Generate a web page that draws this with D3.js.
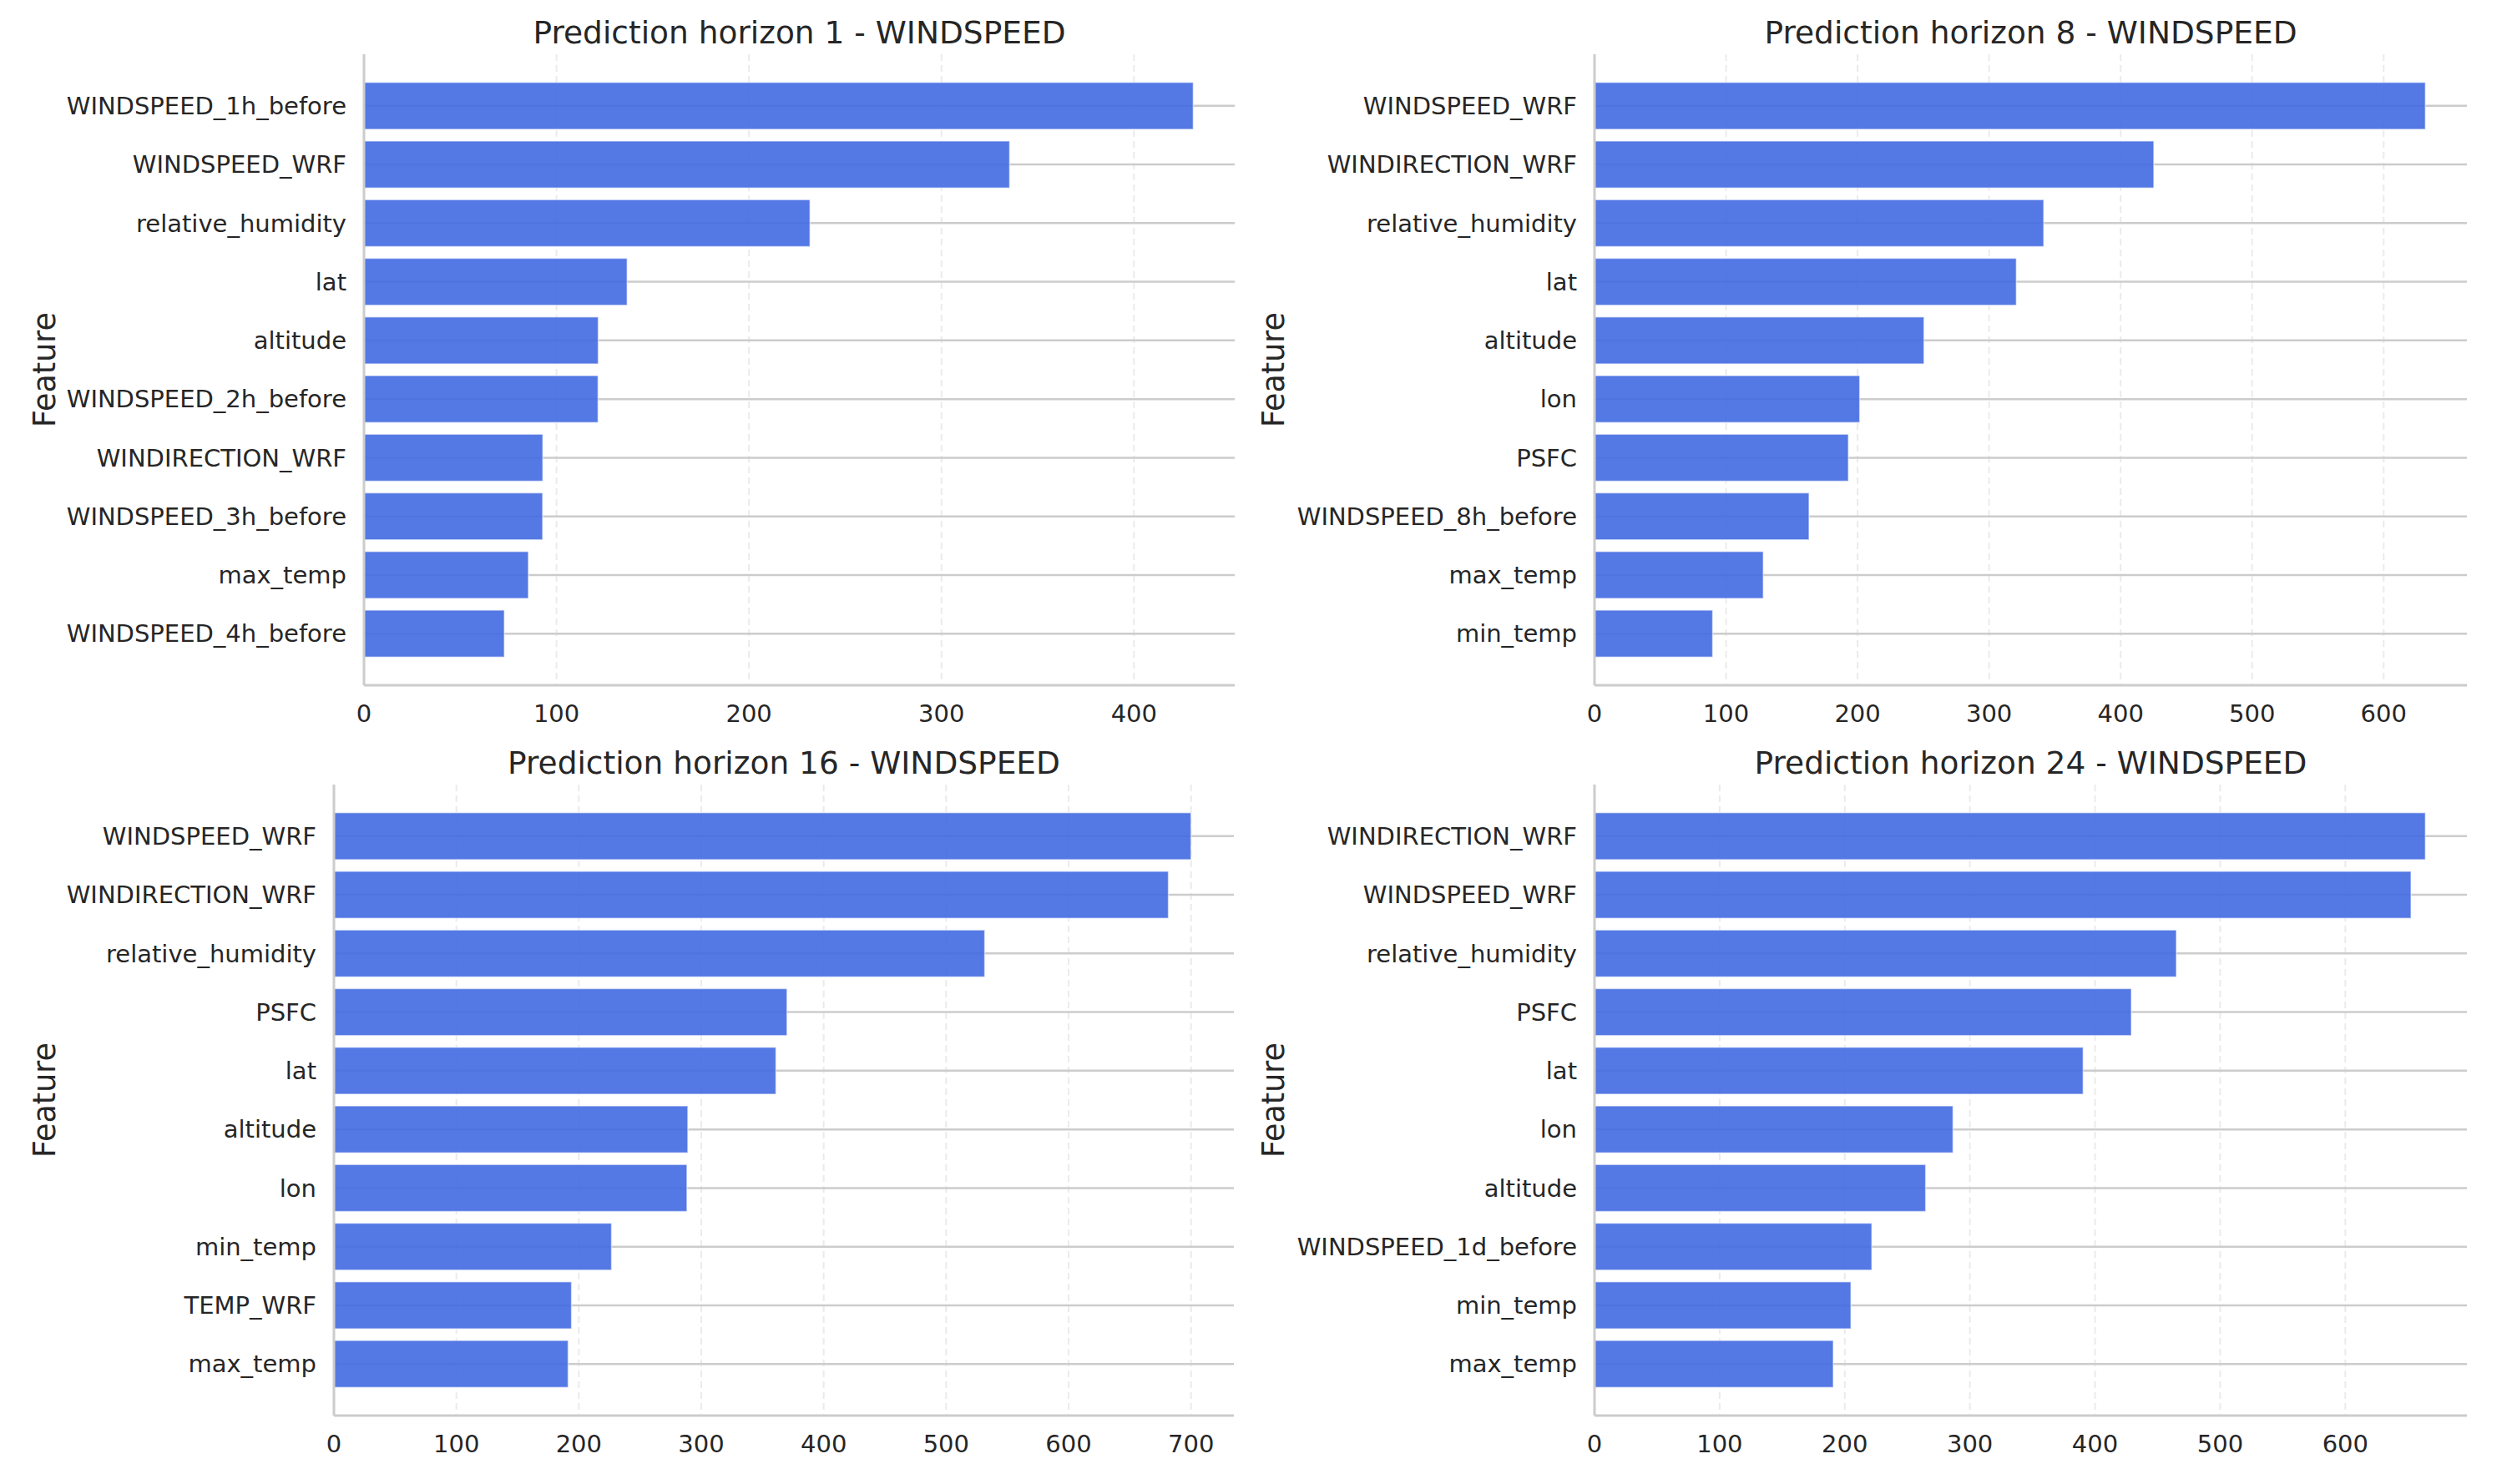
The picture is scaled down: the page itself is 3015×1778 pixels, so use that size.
<!DOCTYPE html>
<html>
<head>
<meta charset="utf-8">
<script src="https://cdn.jsdelivr.net/npm/d3@7"></script>
<style>
  body { margin: 0; background: #fff; }
  text { font-family: "DejaVu Sans", sans-serif; fill: #262626; }
</style>
</head>
<body>
<svg id="chart" width="3015" height="1778"></svg>
<script>
// feature importance per prediction horizon
const features1 = ['WINDSPEED_1h_before', 'WINDSPEED_WRF', 'relative_humidity', 'lat', 'altitude',
  'WINDSPEED_2h_before', 'WINDIRECTION_WRF', 'WINDSPEED_3h_before', 'max_temp', 'WINDSPEED_4h_before'];
const values1 = [430.8, 335.4, 231.7, 136.7, 121.7, 121.6, 92.9, 92.8, 85.4, 72.9];
const ticks1 = [0, 100, 200, 300, 400];

const features8 = ['WINDSPEED_WRF', 'WINDIRECTION_WRF', 'relative_humidity', 'lat', 'altitude',
  'lon', 'PSFC', 'WINDSPEED_8h_before', 'max_temp', 'min_temp'];
const values8 = [631.7, 425.2, 341.5, 320.7, 250.5, 201.6, 193, 163.1, 128.3, 89.8];
const ticks8 = [0, 100, 200, 300, 400, 500, 600];

const features16 = ['WINDSPEED_WRF', 'WINDIRECTION_WRF', 'relative_humidity', 'PSFC', 'lat',
  'altitude', 'lon', 'min_temp', 'TEMP_WRF', 'max_temp'];
const values16 = [700, 681.5, 531.5, 370, 361, 289, 288.3, 226.7, 194, 191.3];
const ticks16 = [0, 100, 200, 300, 400, 500, 600, 700];

const features24 = ['WINDIRECTION_WRF', 'WINDSPEED_WRF', 'relative_humidity', 'PSFC', 'lat',
  'lon', 'altitude', 'WINDSPEED_1d_before', 'min_temp', 'max_temp'];
const values24 = [664, 652.5, 465, 429, 390.5, 286.5, 264.6, 221.6, 204.9, 190.8];
const ticks24 = [0, 100, 200, 300, 400, 500, 600];

const titles = ['Prediction horizon 1 - WINDSPEED', 'Prediction horizon 8 - WINDSPEED',
  'Prediction horizon 16 - WINDSPEED', 'Prediction horizon 24 - WINDSPEED'];

const panels = [
  { feats: features1, vals: values1, ticks: ticks1, title: titles[0], x0: 436, x1: 1479, y0: 65, y1: 821, lx: 53 },
  { feats: features8, vals: values8, ticks: ticks8, title: titles[1], x0: 1910, x1: 2955, y0: 65, y1: 821, lx: 1525 },
  { feats: features16, vals: values16, ticks: ticks16, title: titles[2], x0: 400, x1: 1478, y0: 940, y1: 1696, lx: 53 },
  { feats: features24, vals: values24, ticks: ticks24, title: titles[3], x0: 1910, x1: 2955, y0: 940, y1: 1696, lx: 1525 }
];

const svg = d3.select('#chart');
const gridColor = '#cccccc';

panels.forEach(p => {
    const g = svg.append('g');

    const x = d3.scaleLinear()
        .domain([0, d3.max(p.vals) * 1.05])
        .range([p.x0, p.x1]);

    // categorical y with matplotlib-style margins
    const n = p.feats.length;
    const y = d3.scaleLinear()
        .domain([-0.4 - 0.049 * (n - 0.2), n - 0.6 + 0.049 * (n - 0.2)])
        .range([p.y0, p.y1]);
    const bandH = (y(1) - y(0)) * 0.8;

    // vertical dashed grid
    g.selectAll('.vgrid')
        .data(p.ticks.slice(1))
        .join('line')
        .attr('x1', d => x(d)).attr('x2', d => x(d))
        .attr('y1', p.y0).attr('y2', p.y1)
        .attr('stroke', '#ebebeb')
        .attr('stroke-width', 2)
        .attr('stroke-dasharray', '8,5');

    // horizontal grid at each category
    g.selectAll('.hgrid')
        .data(p.feats)
        .join('line')
        .attr('x1', p.x0).attr('x2', p.x1)
        .attr('y1', (d, i) => y(i)).attr('y2', (d, i) => y(i))
        .attr('stroke', gridColor)
        .attr('stroke-width', 2.5);

    g.selectAll('rect')
        .data(p.vals)
        .join('rect')
        .attr('x', x(0))
        .attr('y', (d, i) => y(i) - bandH / 2)
        .attr('width', d => x(d) - x(0))
        .attr('height', bandH)
        .attr('fill', 'royalblue')
        .attr('fill-opacity', 0.9)
        .attr('stroke', '#ffffff')
        .attr('stroke-opacity', 0.5)
        .attr('stroke-width', 1.5);

    // spines: left and bottom only
    g.append('line')
        .attr('x1', p.x0).attr('x2', p.x0)
        .attr('y1', p.y0).attr('y2', p.y1)
        .attr('stroke', gridColor).attr('stroke-width', 3);
    g.append('line')
        .attr('x1', p.x0).attr('x2', p.x1)
        .attr('y1', p.y1).attr('y2', p.y1)
        .attr('stroke', gridColor).attr('stroke-width', 3);

    // x tick labels
    g.selectAll('.xt')
        .data(p.ticks)
        .join('text')
        .attr('x', d => x(d))
        .attr('y', p.y1 + 34)
        .attr('dy', '0.35em')
        .attr('text-anchor', 'middle')
        .style('font-size', '29px')
        .text(d => d);

    // y tick labels
    g.selectAll('.yt')
        .data(p.feats)
        .join('text')
        .attr('x', p.x0 - 21)
        .attr('y', (d, i) => y(i))
        .attr('dy', '0.35em')
        .attr('text-anchor', 'end')
        .style('font-size', '29px')
        .text(d => d);

    g.append('text')
        .attr('x', (p.x0 + p.x1) / 2)
        .attr('y', p.y0 - 26)
        .attr('dy', '0.35em')
        .attr('text-anchor', 'middle')
        .style('font-size', '37.5px')
        .text(p.title);

    g.append('text')
        .attr('transform', `translate(${p.lx}, ${(p.y0 + p.y1) / 2}) rotate(-90)`)
        .attr('dy', '0.35em')
        .attr('text-anchor', 'middle')
        .style('font-size', '36.5px')
        .text('Feature');
});
</script>
</body>
</html>
